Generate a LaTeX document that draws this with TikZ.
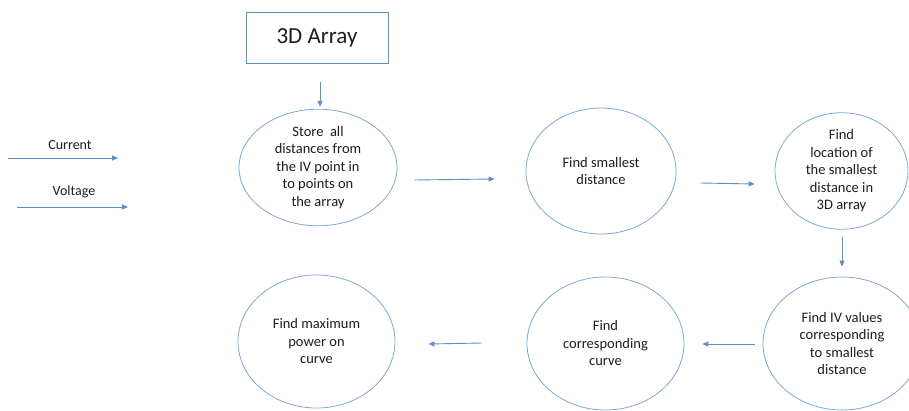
\documentclass[tikz,border=0pt]{standalone}
\usepackage{fontspec}
\setmainfont{Carlito}
\usetikzlibrary{shapes.geometric,arrows.meta}
\definecolor{lineblue}{HTML}{5B8FC7}
\definecolor{rimblue}{HTML}{7FA8D2}
\definecolor{txt}{HTML}{1E1E1E}
\tikzset{
  every node/.style={text=txt},
  stage/.style={ellipse, draw=rimblue, line width=0.8pt, inner sep=0pt,
    align=center, font=\fontsize{14.5}{17.5}\selectfont},
  inbox/.style={rectangle, draw=lineblue, line width=0.8pt, inner sep=0pt,
    font=\fontsize{23}{27}\selectfont},
  lbl/.style={font=\fontsize{14}{16}\selectfont, inner sep=0pt},
  arr/.style={draw=lineblue, line width=0.9pt,
    -{Triangle[length=6pt,width=5pt]}}
}
\begin{document}
\begin{tikzpicture}[x=1pt,y=-1pt]
\useasboundingbox (0,0) rectangle (909,411);
\clip (0,0) rectangle (909,411);
\fill[white] (0,0) rectangle (909,411);

% input box
\node[inbox, minimum width=142pt, minimum height=51pt] (arr3d) at (317,37.5) {3D Array};

% process stages
\node[stage, minimum width=158pt, minimum height=101pt] (store) at (318,167.5)
  {Store\ \ all\\distances from\\the IV point in\\to points on\\the array};
\node[stage, minimum width=150pt, minimum height=126pt] (small) at (601,171)
  {Find smallest\\distance};
\node[stage, minimum width=133pt, minimum height=112pt] (locate) at (841.5,171)
  {Find\\location of\\the smallest\\distance in\\3D array};
\node[stage, minimum width=158pt, minimum height=133pt] (ivval) at (842,343.5)
  {Find IV values\\corresponding\\to smallest\\distance};
\node[stage, minimum width=157pt, minimum height=133pt] (curve) at (605.5,343.5)
  {Find\\corresponding\\curve};
\node[stage, minimum width=157pt, minimum height=133pt] (maxp) at (316.5,341.5)
  {Find maximum\\power on\\curve};

% inputs on the left
\node[lbl] (cur) at (70,145) {Current};
\node[lbl] (vol) at (74,192) {Voltage};
\coordinate (curA) at (8,158);
\coordinate (curB) at (118,158);
\coordinate (volA) at (17,207);
\coordinate (volB) at (128,207);
\draw[arr] (curA) -- (curB);
\draw[arr] (volA) -- (volB);

% flow (offsets in picture units, y pointing down)
\draw[arr] ([shift={(3,19)}]arr3d.south) -- ([shift={(2,-2)}]store.north);
\draw[arr] ([shift={(17,12.5)}]store.east) -- ([shift={(-31,8)}]small.west);
\draw[arr] ([shift={(24,12)}]small.east) -- ([shift={(-20,13)}]locate.west);
\draw[arr] ([shift={(0.5,7)}]locate.south) -- ([shift={(0,-10)}]ivval.north);
\draw[arr] ([shift={(-8,0.5)}]ivval.west) -- ([shift={(18,0.5)}]curve.east);
\draw[arr] ([shift={(-45,-0.5)}]curve.west) -- ([shift={(33,2.5)}]maxp.east);
\end{tikzpicture}
\end{document}
